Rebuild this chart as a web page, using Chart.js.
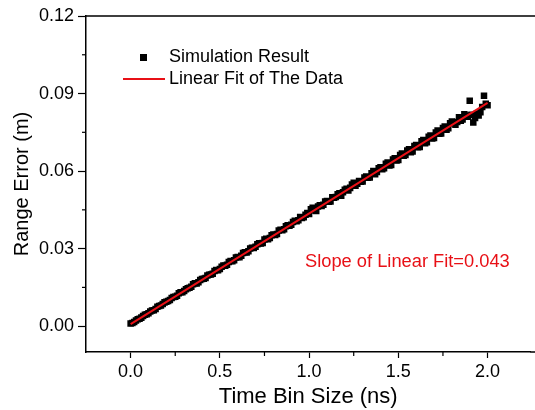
<!DOCTYPE html>
<html>
<head>
<meta charset="utf-8">
<script src="https://cdn.jsdelivr.net/npm/chart.js@4.4.0/dist/chart.umd.min.js"></script>
<style>
  html, body { margin: 0; padding: 0; background: #fff; }
  #wrap { width: 535px; height: 410px; }
</style>
</head>
<body>
<div id="wrap"><canvas id="rangechart" width="535" height="410"></canvas></div>
<script>
// time bin size (ns) of each simulation point, 0.00 .. 2.00
const binSize = [
  0.00,0.01,0.02,0.03,0.04,0.05,0.06,0.07,0.08,0.09,
  0.10,0.11,0.12,0.13,0.14,0.15,0.16,0.17,0.18,0.19,
  0.20,0.21,0.22,0.23,0.24,0.25,0.26,0.27,0.28,0.29,
  0.30,0.31,0.32,0.33,0.34,0.35,0.36,0.37,0.38,0.39,
  0.40,0.41,0.42,0.43,0.44,0.45,0.46,0.47,0.48,0.49,
  0.50,0.51,0.52,0.53,0.54,0.55,0.56,0.57,0.58,0.59,
  0.60,0.61,0.62,0.63,0.64,0.65,0.66,0.67,0.68,0.69,
  0.70,0.71,0.72,0.73,0.74,0.75,0.76,0.77,0.78,0.79,
  0.80,0.81,0.82,0.83,0.84,0.85,0.86,0.87,0.88,0.89,
  0.90,0.91,0.92,0.93,0.94,0.95,0.96,0.97,0.98,0.99,
  1.00,1.01,1.02,1.03,1.04,1.05,1.06,1.07,1.08,1.09,
  1.10,1.11,1.12,1.13,1.14,1.15,1.16,1.17,1.18,1.19,
  1.20,1.21,1.22,1.23,1.24,1.25,1.26,1.27,1.28,1.29,
  1.30,1.31,1.32,1.33,1.34,1.35,1.36,1.37,1.38,1.39,
  1.40,1.41,1.42,1.43,1.44,1.45,1.46,1.47,1.48,1.49,
  1.50,1.51,1.52,1.53,1.54,1.55,1.56,1.57,1.58,1.59,
  1.60,1.61,1.62,1.63,1.64,1.65,1.66,1.67,1.68,1.69,
  1.70,1.71,1.72,1.73,1.74,1.75,1.76,1.77,1.78,1.79,
  1.80,1.81,1.82,1.83,1.84,1.85,1.86,1.87,1.88,1.89,
  1.90,1.91,1.92,1.93,1.94,1.95,1.96,1.97,1.98,1.99,2.00];
// range error (m)
const rangeError = [
  0.0010,0.0012,0.0016,0.0022,0.0027,0.0029,0.0033,0.0039,0.0044,0.0046,
  0.0050,0.0057,0.0061,0.0062,0.0066,0.0075,0.0078,0.0080,0.0086,0.0092,
  0.0094,0.0097,0.0101,0.0109,0.0113,0.0114,0.0118,0.0127,0.0131,0.0131,
  0.0136,0.0143,0.0147,0.0149,0.0152,0.0162,0.0166,0.0165,0.0170,0.0179,
  0.0182,0.0183,0.0186,0.0196,0.0199,0.0200,0.0203,0.0213,0.0217,0.0216,
  0.0221,0.0230,0.0235,0.0234,0.0238,0.0248,0.0252,0.0251,0.0255,0.0266,
  0.0268,0.0267,0.0272,0.0283,0.0286,0.0285,0.0290,0.0300,0.0303,0.0302,
  0.0307,0.0317,0.0321,0.0320,0.0322,0.0335,0.0338,0.0336,0.0341,0.0352,
  0.0355,0.0353,0.0357,0.0370,0.0373,0.0371,0.0375,0.0387,0.0390,0.0388,
  0.0392,0.0403,0.0408,0.0406,0.0410,0.0422,0.0418,0.0421,0.0431,0.0438,
  0.0434,0.0452,0.0458,0.0447,0.0446,0.0463,0.0468,0.0465,0.0470,0.0482,
  0.0484,0.0481,0.0482,0.0499,0.0497,0.0500,0.0510,0.0514,0.0505,0.0518,
  0.0528,0.0532,0.0525,0.0535,0.0548,0.0555,0.0543,0.0551,0.0562,0.0559,
  0.0560,0.0575,0.0579,0.0574,0.0575,0.0592,0.0600,0.0588,0.0596,0.0611,
  0.0615,0.0607,0.0611,0.0628,0.0633,0.0622,0.0624,0.0645,0.0650,0.0641,
  0.0643,0.0662,0.0668,0.0659,0.0662,0.0680,0.0684,0.0673,0.0676,0.0697,
  0.0701,0.0692,0.0693,0.0715,0.0720,0.0708,0.0712,0.0733,0.0738,0.0726,
  0.0728,0.0749,0.0757,0.0744,0.0745,0.0767,0.0772,0.0760,0.0766,0.0785,
  0.0792,0.0787,0.0779,0.0790,0.0808,0.0795,0.0800,0.0820,0.0815,0.0810,
  0.0872,0.0818,0.0788,0.0805,0.0822,0.0815,0.0828,0.0848,0.0891,0.0860,0.0855];
// linear fit end points
const fitX = [0, 2.0];
const fitY = [0.0008, 0.0864];

const xTicks = [0, 0.5, 1.0, 1.5, 2.0];
const xMinor = [0.25, 0.75, 1.25, 1.75];
const yTicks = [0, 0.03, 0.06, 0.09, 0.12];
const yMinor = [0.015, 0.045, 0.075, 0.105];

const RED = 'rgb(232,16,22)';
const FONT = '"Liberation Sans", Arial, sans-serif';

// minor ticks, top frame line, legend and slope note
const extras = {
  id: 'extras',
  afterDraw(chart) {
    const ctx = chart.ctx;
    const a = chart.chartArea;
    const xs = chart.scales.x, ys = chart.scales.y;
    ctx.save();
    ctx.strokeStyle = '#000';
    ctx.lineWidth = 1.5;
    ctx.beginPath();
    ctx.moveTo(a.left, a.top);
    ctx.lineTo(chart.width, a.top);
    ctx.moveTo(a.right, a.bottom);
    ctx.lineTo(chart.width, a.bottom);
    ctx.stroke();
    ctx.lineWidth = 1.2;
    xMinor.forEach(v => {
      const px = xs.getPixelForValue(v);
      ctx.beginPath(); ctx.moveTo(px, a.bottom); ctx.lineTo(px, a.bottom + 4); ctx.stroke();
    });
    yMinor.forEach(v => {
      const py = ys.getPixelForValue(v);
      ctx.beginPath(); ctx.moveTo(a.left, py); ctx.lineTo(a.left - 4, py); ctx.stroke();
    });

    // legend
    const ds = chart.data.datasets;
    ctx.font = '18px ' + FONT;
    ctx.textBaseline = 'middle';
    ctx.fillStyle = '#000';
    ctx.fillRect(140, 54, 7, 7);
    ctx.fillText(ds[0].label, 169, 57);
    ctx.strokeStyle = RED;
    ctx.lineWidth = 2;
    ctx.beginPath(); ctx.moveTo(123, 79); ctx.lineTo(165, 79); ctx.stroke();
    ctx.fillStyle = '#000';
    ctx.fillText(ds[1].label, 169, 79);

    ctx.fillStyle = RED;
    ctx.font = '18.3px ' + FONT;
    ctx.fillText('Slope of Linear Fit=0.043', 305, 262);
    ctx.restore();
  }
};

const ctx = document.getElementById('rangechart').getContext('2d');
const rangeChart = new Chart(ctx, {
  type: 'scatter',
  data: {
    datasets: [{
      label: 'Simulation Result',
      data: binSize.map((x, i) => ({x: x, y: rangeError[i]})),
      pointStyle: 'rect',
      pointRadius: 4.6,
      pointBorderWidth: 0,
      backgroundColor: '#000',
      borderColor: '#000',
      order: 1
    }, {
      label: 'Linear Fit of The Data',
      type: 'line',
      data: fitX.map((x, i) => ({x: x, y: fitY[i]})),
      borderColor: RED,
      borderWidth: 2,
      pointRadius: 0,
      fill: false,
      order: 0
    }]
  },
  options: {
    responsive: false,
    animation: false,
    layout: { padding: { top: 16, right: 0, left: 0, bottom: 0 } },
    plugins: { legend: { display: false }, tooltip: { enabled: false } },
    scales: {
      x: {
        type: 'linear',
        min: -0.25,
        max: 2.24,
        afterBuildTicks: s => { s.ticks = xTicks.map(v => ({value: v})); },
        afterFit: s => { s.height = 58; s.paddingRight = 0; s.paddingLeft = 0; },
        grid: { drawOnChartArea: false, tickLength: 6, tickColor: '#000', tickWidth: 1.2 },
        border: { color: '#000', width: 1.5 },
        ticks: { color: '#000', padding: 3, font: { family: FONT, size: 18 },
          callback: v => v.toFixed(1) },
        title: { display: true, text: 'Time Bin Size (ns)', color: '#000',
          font: { family: FONT, size: 22 }, padding: { top: 0, bottom: 0 } }
      },
      y: {
        type: 'linear',
        min: -0.01,
        max: 0.12,
        afterBuildTicks: s => { s.ticks = yTicks.map(v => ({value: v})); },
        afterFit: s => { s.width = 86; s.paddingTop = 0; s.paddingBottom = 0; },
        grid: { drawOnChartArea: false, tickLength: 8, tickColor: '#000', tickWidth: 1.2 },
        border: { color: '#000', width: 1.5 },
        ticks: { color: '#000', padding: 4, font: { family: FONT, size: 18 },
          callback: v => v.toFixed(2) },
        title: { display: true, text: 'Range Error (m)', color: '#000',
          font: { family: FONT, size: 20 }, padding: { top: 10, bottom: 0 } }
      }
    }
  },
  plugins: [extras]
});
</script>
</body>
</html>
